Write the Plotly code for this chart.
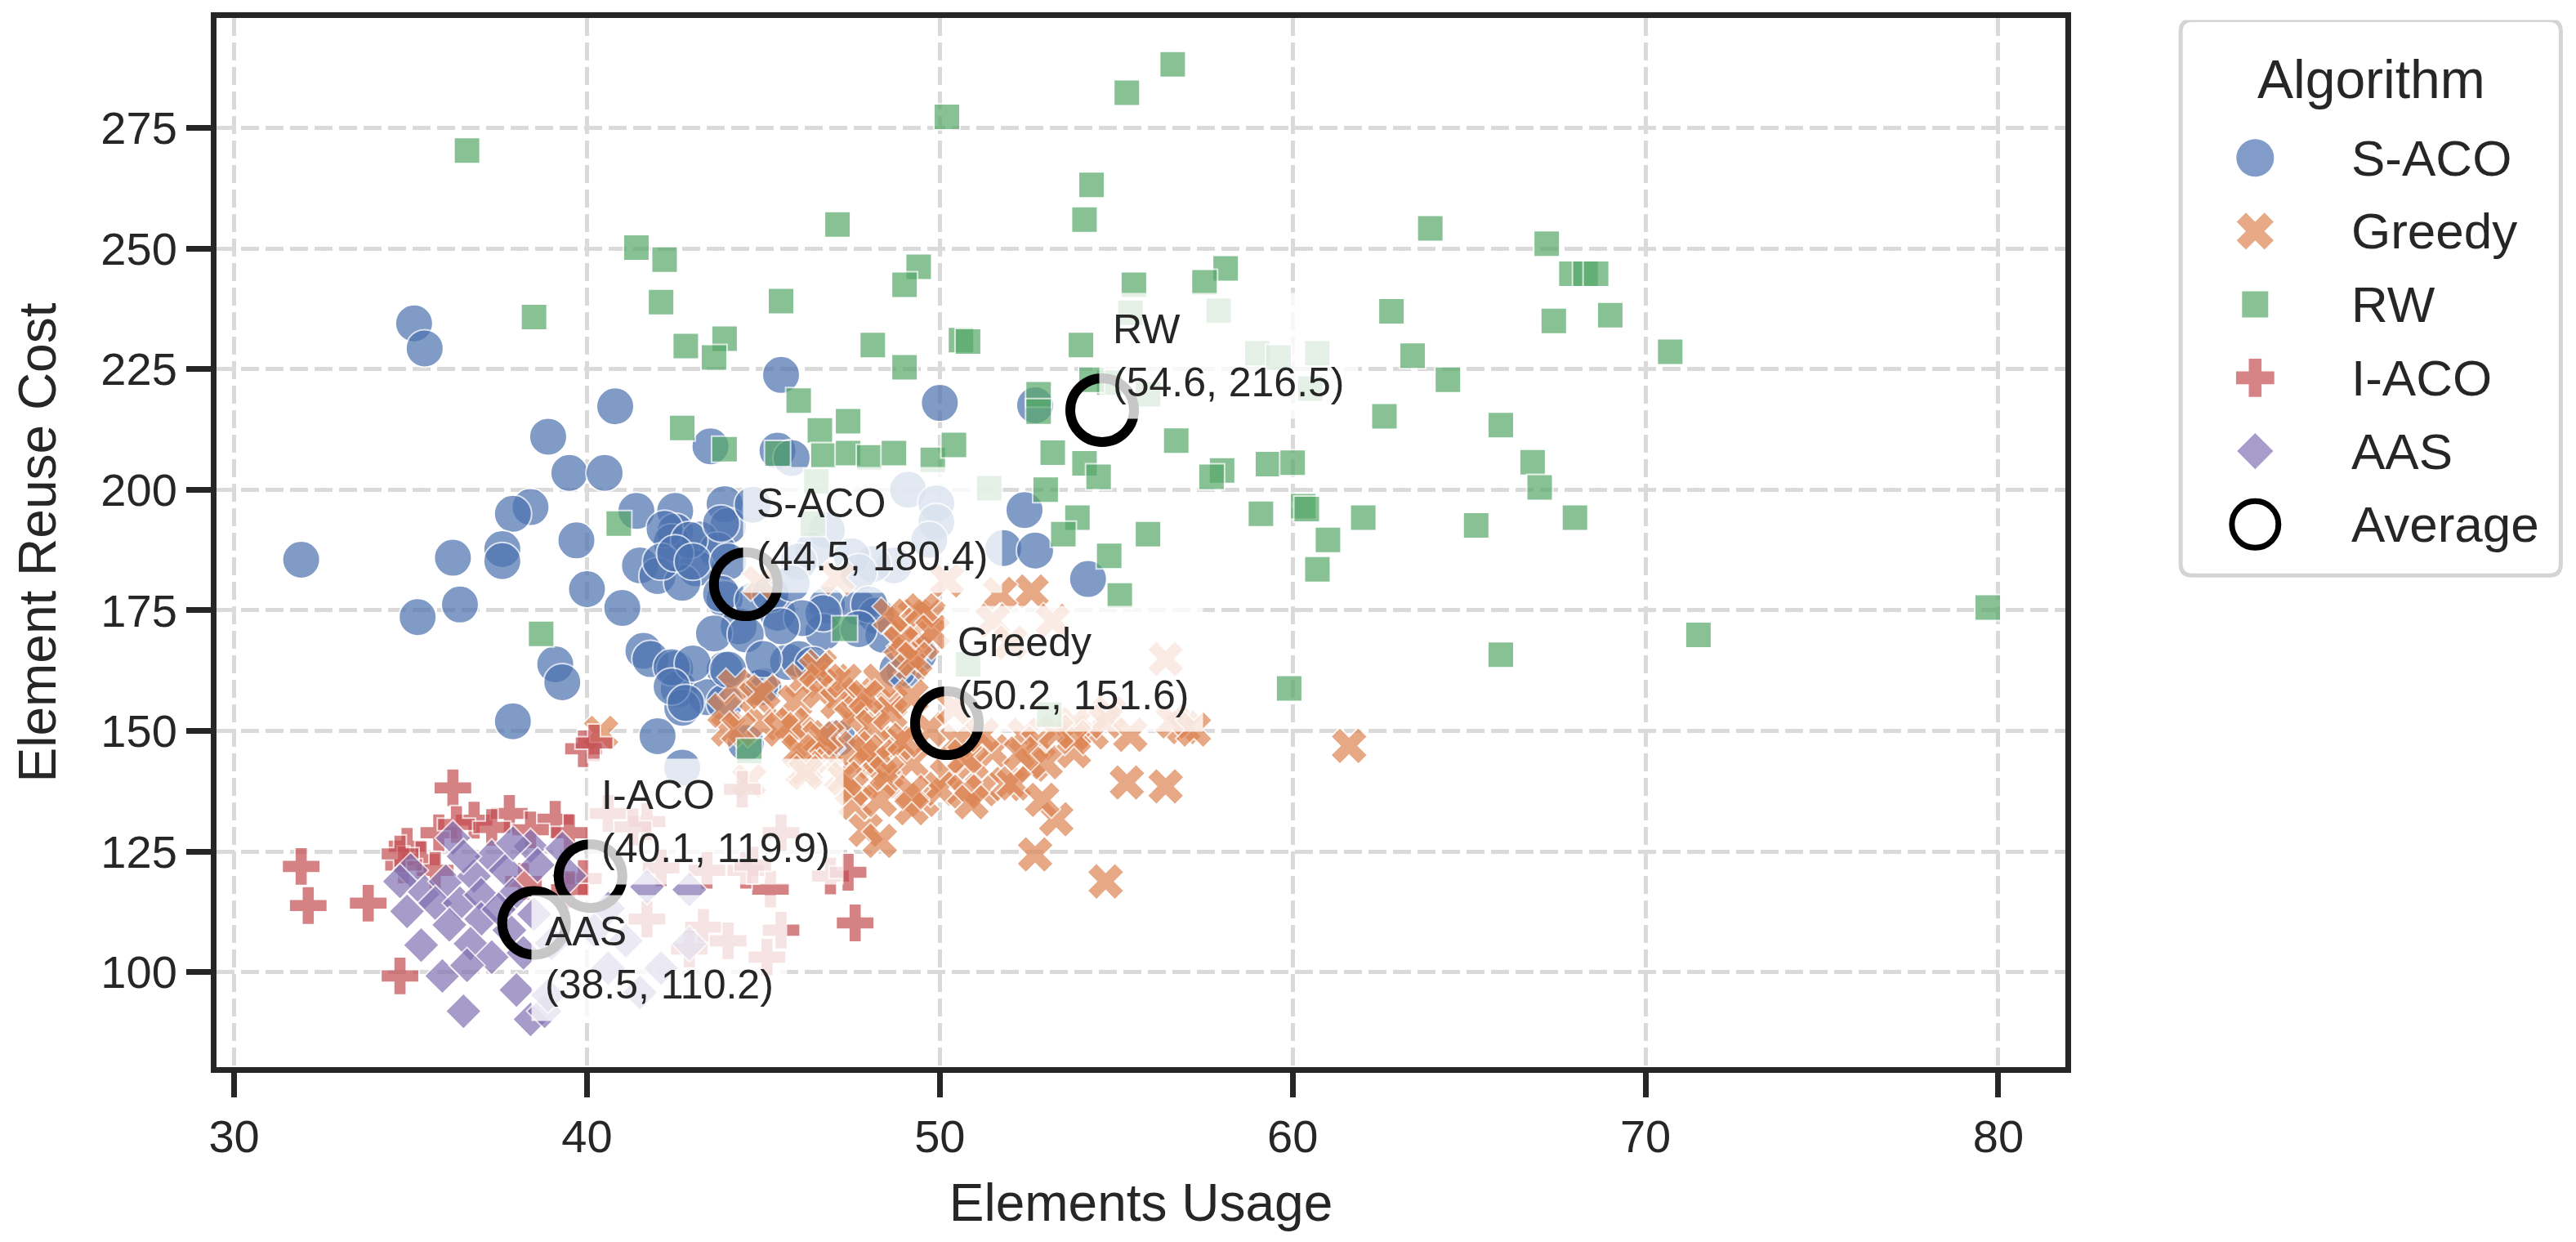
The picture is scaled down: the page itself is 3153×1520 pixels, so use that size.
import plotly.graph_objects as go

# ---- data ----
algorithms = ["S-ACO", "Greedy", "RW", "I-ACO", "AAS"]

saco_x = [35.1, 35.4, 45.5, 40.8, 38.9, 43.5, 45.4, 45.8, 39.5, 40.5, 38.4, 37.9, 41.4, 42.5, 43.9,
          44.0, 42.5, 42.4, 43.2, 43.7, 39.7, 37.6, 37.6, 36.2, 31.9, 41.5, 42.0, 43.1, 42.7, 40.0,
          41.0, 43.9, 44.3, 45.4, 43.6, 36.4, 35.2, 39.1, 39.3, 41.6, 41.8, 42.5, 42.6, 43.9, 43.4,
          42.7, 45.0, 43.9, 37.9, 42.0, 42.7, 44.5, 45.7, 42.2, 42.9, 43.8, 42.1, 42.5, 43.0, 44.0,
          43.8, 44.7, 45.2, 46.8, 47.7, 48.2, 48.4, 46.7, 46.7, 42.4, 43.0, 42.4, 42.8, 44.9, 46.0,
          46.4, 49.0, 49.4, 47.1, 50.0, 52.7, 49.1, 49.9, 49.9, 49.7, 48.7, 48.1, 47.5, 46.8, 46.4,
          51.8, 44.7, 52.4, 52.7, 46.0, 45.8, 54.2, 47.7, 48.0, 46.1, 47.7, 45.5, 44.5, 45.0, 44.0,
          48.8]
saco_y = [234.5, 229.3, 223.8, 217.3, 211.0, 209.0, 208.1, 206.6, 203.5, 203.5, 196.4, 195.0, 195.6, 195.6, 197.0,
          192.5, 191.3, 189.1, 189.7, 187.4, 189.5, 187.7, 185.2, 185.9, 185.5, 184.3, 182.1, 183.7, 180.7, 179.4,
          175.5, 177.3, 171.7, 174.5, 170.2, 176.2, 173.6, 163.8, 160.1, 166.6, 164.9, 162.9, 158.7, 162.7, 157.0,
          154.8, 159.3, 155.9, 152.0, 148.9, 142.4, 147.5, 164.3, 191.9, 189.6, 193.0, 185.1, 186.8, 185.1, 185.1,
          178.4, 177.0, 178.4, 176.1, 175.6, 173.9, 169.9, 170.5, 174.4, 163.2, 164.0, 159.2, 155.8, 159.0, 164.9,
          163.7, 162.6, 166.0, 148.5, 218.0, 217.5, 200.0, 197.2, 193.3, 189.6, 184.3, 184.6, 186.2, 191.6, 187.4,
          187.9, 196.9, 195.8, 187.4, 185.1, 180.6, 181.5, 182.9, 176.2, 173.4, 171.1, 171.7, 170.0, 164.9, 162.7,
          162.7]

greedy_x = [61.6, 55.3, 56.4, 53.3, 52.7, 54.7, 56.9, 56.4, 54.3, 52.6, 51.7, 50.2, 53.2, 51.5, 52.0,
            49.3, 49.0, 49.7, 52.4, 52.8, 51.5, 50.9, 50.2, 51.2, 51.9, 52.6, 49.2, 48.8, 48.1, 49.5,
            48.4, 47.9, 48.3, 47.6, 47.2, 46.8, 48.6, 49.2, 47.0, 47.7, 49.7, 50.5, 50.4, 53.8, 54.8,
            53.8, 53.0, 47.1, 44.9, 56.6, 54.7, 53.8, 55.4, 57.2, 48.9, 49.5, 49.1, 46.6, 46.1, 44.2,
            44.8, 44.0, 45.0, 45.9, 46.6, 47.1, 47.7, 48.3, 47.5, 46.0, 46.8, 48.1, 48.6, 49.2, 47.6,
            48.3, 46.3, 49.0, 50.7, 51.2, 52.3, 53.3, 50.0, 47.5, 48.3, 49.2, 50.7, 52.1, 52.9, 46.1,
            50.9, 43.9, 45.0, 46.5, 48.6, 49.5, 49.8, 48.9, 49.3, 47.3, 47.9, 45.8, 46.6, 47.9, 48.5,
            49.2, 47.3, 46.2, 40.4, 44.3, 45.5, 46.0, 46.2, 44.6]
greedy_y = [146.9, 139.3, 138.5, 131.7, 124.4, 118.8, 150.8, 164.9, 149.7, 178.9, 178.4, 181.2, 172.8, 172.8, 168.3,
            173.9, 169.4, 173.9, 149.2, 147.5, 145.8, 143.5, 140.7, 137.9, 139.0, 143.0, 143.5, 147.5, 143.5, 135.7,
            139.6, 129.5, 127.2, 135.1, 140.7, 145.8, 155.9, 163.8, 160.4, 154.8, 150.3, 148.0, 154.8, 151.4, 153.7,
            145.8, 143.5, 181.8, 180.7, 152.0, 152.0, 148.7, 149.2, 150.3, 172.2, 168.3, 166.1, 163.3, 160.4, 159.2,
            157.1, 150.3, 151.5, 156.0, 158.2, 156.0, 157.6, 160.4, 152.6, 149.8, 148.7, 150.9, 153.7, 157.1, 146.4,
            144.7, 144.2, 148.1, 144.7, 149.2, 145.3, 149.8, 138.0, 138.0, 135.7, 134.0, 137.4, 139.1, 135.7, 141.9,
            135.2, 154.2, 158.1, 162.6, 173.9, 175.0, 170.5, 168.2, 164.9, 160.4, 157.0, 151.3, 148.5, 145.7, 141.2,
            137.3, 140.1, 142.3, 149.6, 150.3, 150.3, 145.8, 141.3, 139.6]

rw_x = [36.6, 38.5, 38.7, 40.9, 41.4, 42.2, 42.1, 45.5, 42.8, 43.9, 43.6, 46.0, 42.7, 43.9, 46.6,
        47.4, 48.1, 45.4, 46.7, 47.4, 48.0, 48.7, 49.8, 50.4, 44.6, 47.1, 56.6, 55.3, 50.2, 54.3,
        54.1, 63.9, 49.4, 49.0, 55.5, 58.1, 57.5, 55.4, 57.9, 62.8, 49.0, 50.6, 50.8, 54.0, 63.4,
        64.4, 59.0, 59.6, 60.7, 60.5, 55.9, 54.8, 52.8, 52.8, 54.3, 62.6, 53.2, 56.7, 54.1, 58.0,
        59.3, 60.0, 67.2, 67.9, 68.3, 68.6, 67.4, 69.0, 70.7, 65.9, 66.8, 67.0, 65.2, 68.0, 65.9,
        71.5, 79.7, 54.5, 57.7, 53.0, 51.4, 53.9, 53.5, 55.9, 54.8, 55.1, 47.3, 50.8, 53.1, 46.4,
        46.5, 59.1, 60.3, 60.4, 62.0, 61.0, 60.7, 59.9]
rw_y = [270.3, 235.8, 170.1, 193.0, 250.2, 247.7, 238.9, 239.1, 229.8, 231.3, 227.4, 218.5, 212.8, 208.4, 212.3,
        214.2, 230.0, 207.5, 207.1, 207.6, 206.7, 207.6, 206.2, 209.3, 145.8, 255.0, 288.2, 282.3, 277.3, 263.2,
        256.0, 254.2, 246.2, 242.5, 242.5, 245.9, 243.0, 236.7, 237.1, 237.0, 225.4, 231.0, 230.7, 230.0, 227.8,
        222.8, 228.3, 227.4, 228.3, 221.0, 219.8, 222.2, 219.8, 216.2, 222.8, 215.2, 207.7, 210.2, 205.5, 204.0,
        205.3, 205.6, 251.0, 244.8, 244.8, 244.8, 235.0, 236.2, 228.6, 213.4, 205.7, 200.5, 192.6, 194.2, 165.8,
        169.9, 175.6, 202.7, 202.7, 200.0, 200.3, 194.2, 190.8, 190.8, 186.3, 178.1, 171.2, 163.8, 153.4, 193.0,
        201.7, 195.0, 196.6, 196.0, 194.2, 189.6, 183.5, 158.8]

iaco_x = [31.9, 32.1, 33.8, 34.7, 36.2, 36.8, 37.8, 39.1, 34.9, 35.3, 35.8, 36.3, 37.3, 38.4, 39.5,
          39.9, 40.2, 39.9, 39.5, 38.2, 35.7, 34.8, 45.2, 44.4, 41.7, 42.1, 43.4, 44.5, 45.5, 46.9,
          41.7, 43.3, 44.0, 45.5, 45.1, 42.9, 44.7, 40.6, 41.3, 47.4, 47.6, 34.7]
iaco_y = [121.9, 113.8, 114.3, 99.2, 138.2, 131.5, 132.9, 131.7, 126.1, 123.3, 128.9, 130.6, 130.0, 129.5, 128.9,
          146.3, 147.5, 119.4, 117.1, 118.8, 121.1, 122.2, 117.2, 137.9, 131.2, 121.6, 121.1, 121.1, 128.9, 119.9,
          111.0, 109.3, 106.5, 108.7, 103.1, 104.8, 122.2, 132.9, 130.1, 120.7, 110.2, 124.5]

aas_x = [36.2, 37.3, 38.4, 35.0, 34.7, 35.4, 36.0, 36.8, 37.7, 38.6, 34.9, 35.7, 36.4, 37.0, 37.9,
         36.1, 37.0, 36.7, 37.3, 37.8, 35.3, 35.9, 36.6, 36.5, 38.0, 38.4, 38.8, 38.9, 40.6, 41.5,
         42.1, 42.9, 42.9, 41.7, 40.6, 40.2, 41.1, 39.3, 37.9, 36.5, 37.5, 38.5, 38.2, 39.0, 39.5]
aas_y = [127.8, 123.9, 126.1, 121.1, 118.8, 116.6, 118.8, 119.9, 121.1, 122.2, 112.6, 114.3, 114.3, 116.0, 116.0,
         109.8, 111.0, 105.9, 103.1, 108.7, 105.6, 99.2, 101.4, 91.9, 96.3, 90.2, 91.9, 95.2, 100.8, 95.8,
         100.8, 105.9, 117.1, 117.7, 113.2, 108.7, 106.5, 125.6, 126.7, 124.0, 113.0, 112.0, 104.0, 106.0, 120.0]

# averages as printed on the chart
avg_x = [44.5, 50.2, 54.6, 40.1, 38.5]
avg_y = [180.4, 151.6, 216.5, 119.9, 110.2]

x_ticks = [30, 40, 50, 60, 70, 80]
y_ticks = [100, 125, 150, 175, 200, 225, 250, 275]

# ---- style ----
colors = ["#4C72B0", "#DD8452", "#55A868", "#C44E52", "#8172B3"]
symbols = ["circle", "x", "square", "cross", "diamond"]
sizes = [46, 40, 32, 39, 34]
TEXT = "#262626"
FONT = "Liberation Sans, Arial, Helvetica, sans-serif"

series = [(saco_x, saco_y), (greedy_x, greedy_y), (rw_x, rw_y),
          (iaco_x, iaco_y), (aas_x, aas_y)]

fig = go.Figure()

for i, (xs, ys) in enumerate(series):
    fig.add_trace(go.Scatter(
        x=xs, y=ys, mode="markers", name=algorithms[i],
        marker=dict(symbol=symbols[i], size=sizes[i], color=colors[i],
                    opacity=0.7, line=dict(color="white", width=2)),
        showlegend=False, hoverinfo="skip",
    ))

# average rings
fig.add_trace(go.Scatter(
    x=avg_x, y=avg_y, mode="markers", name="Average",
    marker=dict(symbol="circle-open", size=78, color="black",
                line=dict(color="black", width=12)),
    showlegend=False, hoverinfo="skip",
))

annotations = []
for i, name in enumerate(algorithms):
    below = name == "AAS"
    annotations.append(dict(
        x=avg_x[i], y=avg_y[i], xref="x", yref="y",
        text=f"{name}<br>({avg_x[i]:.1f}, {avg_y[i]:.1f})",
        showarrow=False, align="left",
        xanchor="left", yanchor="top" if below else "bottom",
        xshift=-4, yshift=34 if below else -11,
        bgcolor="rgba(255,255,255,0.78)", borderpad=16,
        font=dict(size=50, color=TEXT, family=FONT),
    ))

# ---- hand-drawn legend (big markers like the original) ----
leg_marker_x = 0.196
leg_text_x = 0.445
leg_rows = [0.752 - k * 0.132 for k in range(len(algorithms) + 1)]

for i, name in enumerate(algorithms):
    fig.add_trace(go.Scatter(
        x=[leg_marker_x], y=[leg_rows[i]], mode="markers", xaxis="x2", yaxis="y2",
        marker=dict(symbol=symbols[i], size=sizes[i], color=colors[i], opacity=0.7,
                    line=dict(width=0)),
        showlegend=False, hoverinfo="skip",
    ))
    annotations.append(dict(x=leg_text_x, y=leg_rows[i], xref="x2", yref="y2",
                            text=name, showarrow=False, xanchor="left", yanchor="middle",
                            font=dict(size=62, color=TEXT, family=FONT)))

fig.add_trace(go.Scatter(
    x=[leg_marker_x], y=[leg_rows[-1]], mode="markers", xaxis="x2", yaxis="y2",
    marker=dict(symbol="circle-open", size=57, color="black",
                line=dict(color="black", width=7)),
    showlegend=False, hoverinfo="skip",
))
annotations.append(dict(x=leg_text_x, y=leg_rows[-1], xref="x2", yref="y2",
                        text="Average", showarrow=False, xanchor="left", yanchor="middle",
                        font=dict(size=62, color=TEXT, family=FONT)))
annotations.append(dict(x=0.501, y=0.893, xref="x2", yref="y2",
                        text="Algorithm", showarrow=False, xanchor="center", yanchor="middle",
                        font=dict(size=66, color=TEXT, family=FONT)))

rx, ry = 0.03, 0.021
legend_box = (f"M {rx},0 L {1-rx},0 Q 1,0 1,{ry} L 1,{1-ry} Q 1,1 {1-rx},1 "
              f"L {rx},1 Q 0,1 0,{1-ry} L 0,{ry} Q 0,0 {rx},0 Z")

axis_common = dict(
    showline=True, linewidth=7, linecolor=TEXT, mirror=True,
    ticks="outside", ticklen=30, tickwidth=7, tickcolor=TEXT,
    showgrid=True, gridcolor="#dadada", gridwidth=5, griddash="22px,8px",
    zeroline=False, tickfont=dict(size=56, color=TEXT, family=FONT),
)

fig.update_layout(
    width=3153, height=1520,
    margin=dict(l=265, r=0, t=22, b=214),
    plot_bgcolor="white", paper_bgcolor="white",
    font=dict(family=FONT, color=TEXT),
    showlegend=False,
    xaxis=dict(axis_common, domain=[0, 0.7836], range=[29.5, 81.9], tickvals=x_ticks,
               title=dict(text="Elements Usage", font=dict(size=64, color=TEXT), standoff=30)),
    yaxis=dict(axis_common, range=[80.3, 297.8], tickvals=y_ticks,
               title=dict(text="Element Reuse Cost", font=dict(size=64, color=TEXT), standoff=36)),
    xaxis2=dict(domain=[0.826, 1.0], range=[-0.04, 1.04], visible=False, anchor="y2", fixedrange=True),
    yaxis2=dict(domain=[0.458, 0.998], range=[-0.02, 1.0], visible=False, anchor="x2", fixedrange=True),
    shapes=[dict(type="path", path=legend_box, xref="x2", yref="y2",
                 line=dict(color="#d4d4d4", width=5), fillcolor="rgba(255,255,255,0.8)",
                 layer="below")],
    annotations=annotations,
)

fig.write_html("out.html", config={"displayModeBar": False},
               post_script="document.body.style.margin='0';")
